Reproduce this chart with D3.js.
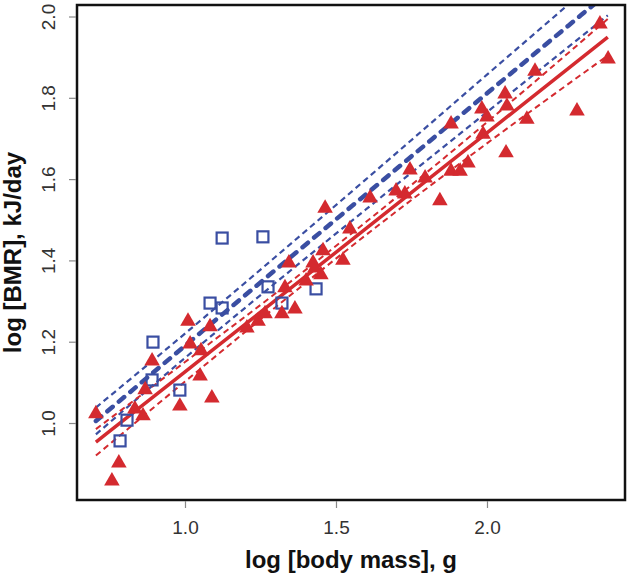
<!DOCTYPE html>
<html><head><meta charset="utf-8">
<script src="https://cdn.jsdelivr.net/npm/d3@7"></script>
<style>body{margin:0;background:#fff}svg{display:block}</style>
</head><body>
<svg id="c" width="630" height="579"></svg>
<script>
// Red triangles: log body mass, log BMR
const redX = [0.705,0.758,0.781,0.834,0.861,0.868,0.891,0.983,1.050,1.089,1.010,1.017,1.053,1.083,1.205,1.242,1.265,1.321,1.364,1.331,1.344,1.401,1.430,1.450,1.457,1.424,1.464,1.546,1.523,1.613,1.699,1.728,1.745,1.795,1.844,1.881,1.911,1.937,1.881,1.987,1.983,2.000,2.060,2.066,2.063,2.159,2.132,2.298,2.374,2.401];
const redY = [1.025,0.860,0.904,1.037,1.020,1.084,1.155,1.044,1.118,1.064,1.253,1.197,1.180,1.239,1.236,1.253,1.271,1.271,1.283,1.335,1.396,1.352,1.384,1.367,1.426,1.396,1.531,1.480,1.403,1.556,1.573,1.566,1.625,1.605,1.549,1.622,1.622,1.642,1.738,1.713,1.775,1.755,1.812,1.782,1.667,1.868,1.750,1.770,1.984,1.898];
// Blue squares
const blueX = [0.785,0.808,0.894,0.891,0.983,1.083,1.123,1.123,1.258,1.275,1.321,1.434];
const blueY = [0.956,1.007,1.199,1.106,1.081,1.295,1.283,1.455,1.458,1.335,1.295,1.330];
// Fitted lines and confidence bands
const lineX     = [0.705,1.0,1.3,1.6,2.0,2.4];
const redFit    = [0.953,1.126,1.302,1.479,1.714,1.949];
const redUpper  = [0.985,1.150,1.319,1.495,1.740,1.994];
const redLower  = [0.920,1.102,1.285,1.463,1.688,1.904];
const blueFit   = [1.005,1.190,1.377,1.563,1.811,2.058];
const blueUpper = [1.038,1.220,1.409,1.600,1.857,2.113];
const blueLower = [0.972,1.160,1.345,1.526,1.765,2.003];
const xTicks = [1.0,1.5,2.0];
const yTicks = [1.0,1.2,1.4,1.6,1.8,2.0];

const RED = "#d42a2f", BLUE = "#3a4ea2";
const svg = d3.select("#c");
const L = 77, R = 625, T = 5, B = 500;
const x = d3.scaleLinear().domain([0.6424, 2.457]).range([L, R]);
const y = d3.scaleLinear().domain([0.8106, 2.0283]).range([B, T]);

svg.append("defs").append("clipPath").attr("id","clip")
  .append("rect").attr("x",L).attr("y",T).attr("width",R-L).attr("height",B-T);

const plot = svg.append("g").attr("clip-path","url(#clip)");
const line = d3.line().x(d=>x(d[0])).y(d=>y(d[1])).curve(d3.curveMonotoneX);
function drawLine(ys, color, width, dash, cap){
  plot.append("path").datum(lineX.map((v,i)=>[v, ys[i]]))
    .attr("d", line).attr("fill","none").attr("stroke",color)
    .attr("stroke-width",width).attr("stroke-dasharray",dash||null)
    .attr("stroke-linecap",cap||"butt");
}
drawLine(blueUpper, BLUE, 2.2, "6,4");
drawLine(blueLower, BLUE, 2.2, "6,4");
drawLine(blueFit, BLUE, 4.5, "7,8", "round");
drawLine(redUpper, RED, 2, "6,4");
drawLine(redLower, RED, 2, "6,4");
drawLine(redFit, RED, 3.5);

plot.selectAll("rect.sq").data(blueX.map((v,i)=>[v,blueY[i]])).enter()
  .append("rect").attr("class","sq")
  .attr("x",d=>x(d[0])-5.5).attr("y",d=>y(d[1])-5.5)
  .attr("width",11).attr("height",11)
  .attr("fill","none").attr("stroke",BLUE).attr("stroke-width",2.2);

const tri = d3.symbol().type(d3.symbolTriangle).size(105);
plot.selectAll("path.tri").data(redX.map((v,i)=>[v,redY[i]])).enter()
  .append("path").attr("class","tri").attr("d",tri)
  .attr("transform",d=>`translate(${x(d[0])},${y(d[1])+1})`)
  .attr("fill",RED);

// Box
svg.append("rect").attr("x",L).attr("y",T).attr("width",R-L).attr("height",B-T)
  .attr("fill","none").attr("stroke","#111").attr("stroke-width",2.5);

// X axis
const xa = svg.append("g").attr("transform",`translate(0,${B+1})`)
  .call(d3.axisBottom(x).tickValues(xTicks).tickFormat(d3.format(".1f")).tickSize(7).tickSizeOuter(0));
xa.select(".domain").remove();
xa.selectAll(".tick line").attr("stroke","#888").attr("stroke-width",1.2);
xa.selectAll(".tick text").attr("font-family","Liberation Sans, Arial, sans-serif")
  .attr("font-size",19).attr("fill","#333").attr("y",20).attr("dy","0.71em");

// Y axis
const ya = svg.append("g").attr("transform",`translate(${L-1},0)`)
  .call(d3.axisLeft(y).tickValues(yTicks).tickFormat(d3.format(".1f")).tickSize(7).tickSizeOuter(0));
ya.select(".domain").remove();
ya.selectAll(".tick line").attr("stroke","#888").attr("stroke-width",1.2);
ya.selectAll(".tick text").attr("font-family","Liberation Sans, Arial, sans-serif")
  .attr("font-size",19).attr("fill","#333")
  .attr("x",0).attr("dy",0).attr("text-anchor","middle")
  .attr("transform","translate(-21,0) rotate(-90)");

// Titles
svg.append("text").attr("x",(L+R)/2).attr("y",568).attr("text-anchor","middle")
  .attr("font-family","Liberation Sans, Arial, sans-serif").attr("font-weight","bold")
  .attr("font-size",24).attr("fill","#111").text("log [body mass], g");
svg.append("text").attr("transform",`translate(21,${(T+B)/2}) rotate(-90)`)
  .attr("text-anchor","middle")
  .attr("font-family","Liberation Sans, Arial, sans-serif").attr("font-weight","bold")
  .attr("font-size",24).attr("fill","#111").text("log [BMR], kJ/day");
</script>
</body></html>
